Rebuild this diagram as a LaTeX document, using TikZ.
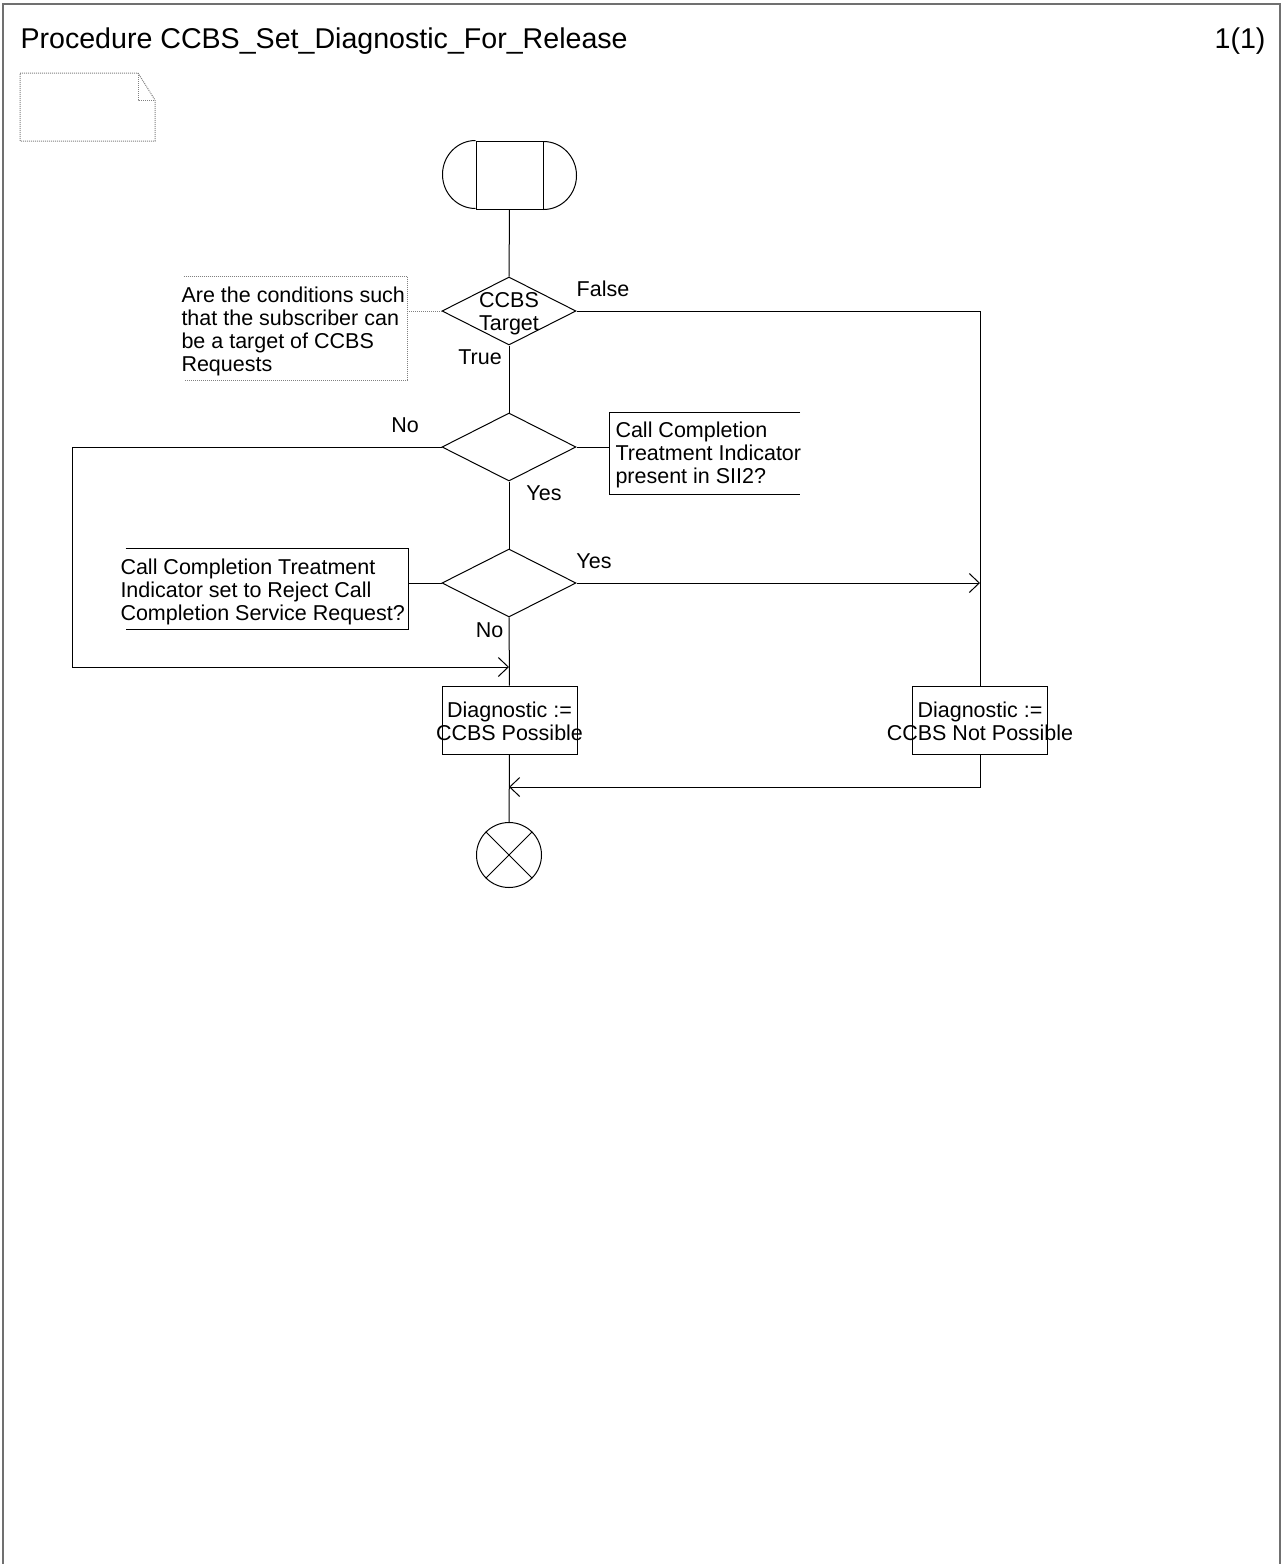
\documentclass[tikz,border=0pt]{standalone}
\usepackage{fontspec}
\setmainfont{Liberation Sans}
\usetikzlibrary{arrows.meta,shapes.geometric,calc}
\definecolor{framegray}{HTML}{707070}
\definecolor{dotgray}{HTML}{808080}

\begin{document}
\begin{tikzpicture}[x=1pt, y=-1pt, line width=1pt,
  decision/.style={diamond, draw, minimum width=134pt, minimum height=68pt, inner sep=0pt},
  taskbox/.style={rectangle, draw, minimum width=135pt, minimum height=68pt, inner sep=0pt},
  cmtframe/.style={rectangle, inner sep=0pt},
  txt/.style={font=\fontsize{21.5}{23}\selectfont, inner sep=0pt, align=center},
  cmt/.style={txt, align=left, anchor=west},
  flow/.style={-{Straight Barb[length=10pt,width=19pt]}},
  dotline/.style={dotgray, dash pattern=on 1pt off 1pt},
]
\useasboundingbox (0,0) rectangle (1283,1564);

% page frame and heading
\draw[framegray, line width=1.3pt] (3,1564) -- (3,4) -- (1280,4) -- (1280,1564);
\node[anchor=base west, inner sep=0pt, font=\fontsize{28.6}{30}\selectfont] (title) at (20,48)
  {Procedure CCBS\_Set\_Diagnostic\_For\_Release};
\node[anchor=base east, inner sep=0pt, font=\fontsize{28.6}{30}\selectfont] (page) at (1266,48) {1(1)};

% text symbol (empty)
\draw[dotline] (20,73) -- (138,73) -- (155,100) -- (155,141) -- (20,141) -- cycle;
\draw[dotline] (138,73) -- (138,100) -- (155,100);

% start
\node[rectangle, draw, minimum width=67pt, minimum height=68pt, inner sep=0pt] (start) at (509.5,175) {};
\draw (start.north west) arc[start angle=90, end angle=270, x radius=33pt, y radius=34pt];
\draw (start.south east) arc[start angle=-90, end angle=90, x radius=33pt, y radius=34pt];

% decisions
\node[decision] (d1) at (509,311) {};
\node[txt] (d1t) at (509,314) {CCBS\\Target};
\node[decision] (d2) at (509,447) {};
\node[decision] (d3) at (509,583) {};

% tasks
\node[taskbox] (p1) at (509.5,720) {};
\node[txt] (p1t) at (509.5,721) {Diagnostic :=\\CCBS Possible};
\node[taskbox] (p2) at (980,720) {};
\node[txt] (p2t) at (980,721) {Diagnostic :=\\CCBS Not Possible};

% stop
\node[circle, draw, minimum size=65pt, inner sep=0pt] (stop) at (509,855) {};
\draw (stop.north west) -- (stop.south east);
\draw (stop.north east) -- (stop.south west);

% comments
\node[cmtframe, minimum width=223pt, minimum height=103pt] (c1) at (295.5,328.5) {};
\draw[dotline] (c1.north west) -- (c1.north east) -- (c1.south east) -- (c1.south west);
\node[cmt] (c1t) at (181,331) {Are the conditions such\\that the subscriber can\\be a target of CCBS\\Requests};
\node[cmtframe, minimum width=190pt, minimum height=81pt] (c2) at (704.5,453.5) {};
\draw (c2.north east) -- (c2.north west) -- (c2.south west) -- (c2.south east);
\node[cmt] (c2t) at (615,455) {Call Completion\\Treatment Indicator\\present in SII2?};
\node[cmtframe, minimum width=282pt, minimum height=80pt] (c3) at (267,589) {};
\draw (c3.north west) -- (c3.north east) -- (c3.south east) -- (c3.south west);
\node[cmt] (c3t) at (120,592) {Call Completion Treatment\\Indicator set to Reject Call\\Completion Service Request?};

\draw[dotline] (d1.west) -- (d1.west -| c1.east);
\draw (d2.east) -- (d2.east -| c2.west);
\draw (d3.west) -- (d3.west -| c3.east);

% flow lines
\coordinate (noin) at (509,667);
\coordinate (notin) at (509,787);
\draw (start) -- (d1);
\draw (d1.east) -| (p2.north);
\node[txt] (lfalse) at (603,289) {False};
\draw (d1) -- (d2);
\node[txt] (ltrue) at (480,357) {True};
\draw[flow] (d2.west) -| (72,667) -- (noin);
\node[txt] (lno1) at (405,425) {No};
\draw (d2) -- (d3);
\node[txt] (lyes1) at (544,493) {Yes};
\draw[flow] (d3.east) -- (d3.east -| p2.north);
\node[txt] (lyes2) at (594,561) {Yes};
\draw (d3) -- (p1);
\node[txt] (lno2) at (489.5,630) {No};
\draw (p1) -- (stop);
\draw[flow] (p2.south) |- (notin);

\end{tikzpicture}
\end{document}
